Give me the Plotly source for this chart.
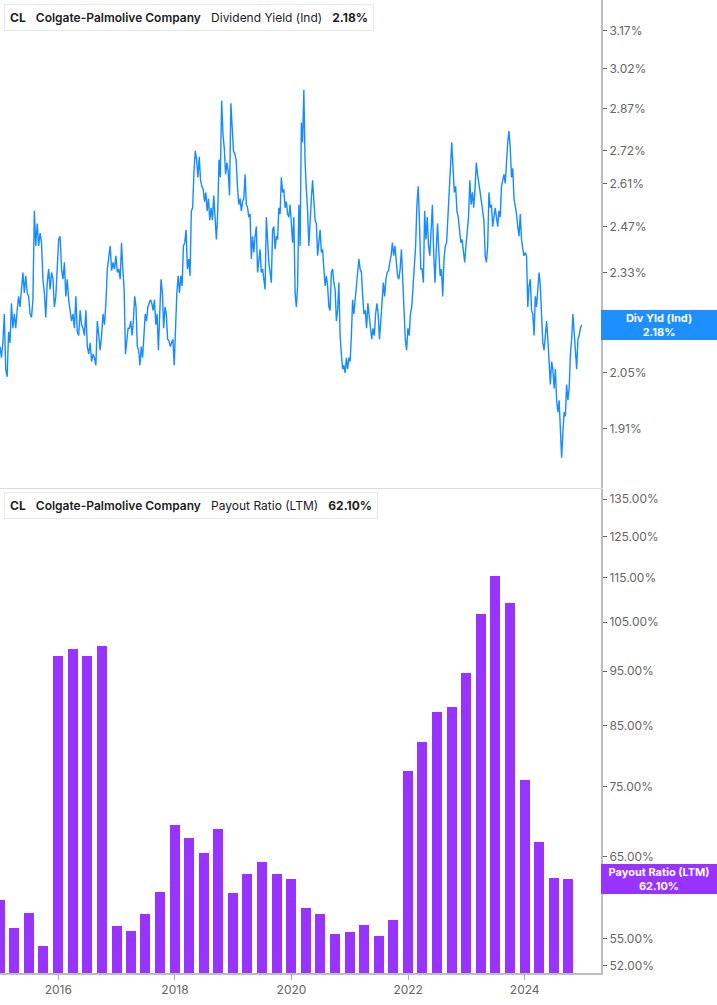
import math
import pandas as pd
import plotly.graph_objects as go

# ---------------- data ----------------
# Dividend yield (%), in five consecutive time segments
yld_2015_2017 = [2.12, 2.09, 2.13, 2.21, 2.06, 2.04, 2.16, 2.13, 2.24, 2.17, 2.21, 2.17, 2.22, 2.26,
                 2.23, 2.28, 2.33, 2.27, 2.32, 2.27, 2.26, 2.21, 2.20, 2.25, 2.52, 2.41, 2.48, 2.41,
                 2.45, 2.42, 2.31, 2.27, 2.20, 2.30, 2.34, 2.28, 2.33, 2.31, 2.23, 2.26, 2.34, 2.43,
                 2.44, 2.34, 2.31, 2.36, 2.26, 2.31, 2.25, 2.22, 2.19, 2.21, 2.17, 2.26, 2.16, 2.15,
                 2.22, 2.18, 2.17, 2.15, 2.22, 2.12, 2.10, 2.13, 2.08, 2.10, 2.09, 2.07, 2.19, 2.15,
                 2.11, 2.15, 2.21, 2.18, 2.24, 2.34, 2.37, 2.41, 2.335, 2.36, 2.34, 2.38, 2.33, 2.34]
yld_2017_2019 = [2.31, 2.42, 2.34, 2.28, 2.10, 2.14, 2.17, 2.17, 2.19, 2.15, 2.19, 2.26, 2.23, 2.12,
                 2.11, 2.07, 2.12, 2.09, 2.15, 2.21, 2.19, 2.23, 2.24, 2.25, 2.24, 2.22, 2.25, 2.18,
                 2.21, 2.11, 2.21, 2.31, 2.27, 2.17, 2.23, 2.21, 2.14, 2.136, 2.12, 2.13, 2.14, 2.07,
                 2.17, 2.27, 2.32, 2.27, 2.32, 2.29, 2.41, 2.42, 2.46, 2.34, 2.37, 2.32, 2.52, 2.53,
                 2.65, 2.72, 2.69, 2.63, 2.70, 2.62, 2.60, 2.59, 2.55, 2.58, 2.52, 2.56, 2.49, 2.53,
                 2.49, 2.57, 2.50, 2.43, 2.51, 2.69, 2.63, 2.90, 2.78, 2.73, 2.64, 2.68, 2.65, 2.57,
                 2.89, 2.80, 2.72, 2.71, 2.69, 2.60, 2.54]
yld_2019_2021 = [2.56, 2.52, 2.55, 2.56, 2.64, 2.54, 2.53, 2.50, 2.51, 2.37, 2.44, 2.39, 2.44, 2.47,
                 2.33, 2.36, 2.40, 2.33, 2.34, 2.31, 2.28, 2.50, 2.41, 2.36, 2.33, 2.30, 2.46, 2.47,
                 2.40, 2.44, 2.43, 2.53, 2.51, 2.63, 2.58, 2.59, 2.53, 2.55, 2.51, 2.50, 2.54, 2.46,
                 2.42, 2.50, 2.27, 2.23, 2.29, 2.54, 2.41, 2.82, 2.75, 2.94, 2.68, 2.59, 2.52, 2.41,
                 2.50, 2.56, 2.62, 2.55, 2.49, 2.48, 2.38, 2.42, 2.46, 2.39, 2.40, 2.34, 2.29, 2.32,
                 2.29, 2.23, 2.22, 2.33, 2.34, 2.30, 2.28, 2.19, 2.22, 2.30, 2.15, 2.10, 2.06, 2.07,
                 2.05, 2.09, 2.06, 2.09, 2.08, 2.15, 2.25, 2.21, 2.25, 2.27, 2.31, 2.37]
yld_2021_2023 = [2.34, 2.33, 2.26, 2.21, 2.22, 2.17, 2.24, 2.20, 2.16, 2.14, 2.17, 2.15, 2.21, 2.24,
                 2.21, 2.14, 2.19, 2.26, 2.30, 2.26, 2.31, 2.33, 2.335, 2.36, 2.38, 2.42, 2.38, 2.41,
                 2.37, 2.32, 2.31, 2.34, 2.40, 2.31, 2.19, 2.14, 2.11, 2.17, 2.15, 2.21, 2.23, 2.30,
                 2.34, 2.41, 2.54, 2.60, 2.48, 2.34, 2.34, 2.30, 2.52, 2.43, 2.50, 2.41, 2.38, 2.48,
                 2.54, 2.39, 2.30, 2.40, 2.48, 2.39, 2.32, 2.34, 2.26, 2.37, 2.41, 2.42, 2.50, 2.59,
                 2.68, 2.75, 2.66, 2.58, 2.60, 2.52, 2.50, 2.45, 2.42, 2.43, 2.39, 2.36, 2.41, 2.45,
                 2.50, 2.62, 2.54, 2.58, 2.53, 2.59, 2.68, 2.64, 2.60]
yld_2023_2024 = [2.58, 2.55, 2.51, 2.49, 2.38, 2.36, 2.41, 2.58, 2.53, 2.54, 2.47, 2.51, 2.53, 2.50,
                 2.47, 2.52, 2.50, 2.60, 2.62, 2.64, 2.61, 2.70, 2.75, 2.79, 2.73, 2.63, 2.66, 2.56,
                 2.54, 2.51, 2.47, 2.44, 2.51, 2.43, 2.40, 2.38, 2.39, 2.38, 2.23, 2.29, 2.31, 2.22,
                 2.21, 2.15, 2.26, 2.23, 2.28, 2.33, 2.29, 2.21, 2.13, 2.11, 2.15, 2.19, 2.14, 2.08,
                 2.02, 2.08, 2.06, 2.01, 2.06, 1.98, 1.95, 1.98, 1.90, 1.84, 1.90, 1.95, 1.94, 2.02,
                 1.98, 2.01, 2.10, 2.14, 2.21, 2.15, 2.11, 2.06, 2.14, 2.15, 2.17, 2.18]
yld_segments = [yld_2015_2017, yld_2017_2019, yld_2019_2021, yld_2021_2023, yld_2023_2024]
segment_bounds = ["2015-01-01", "2017-01-23", "2019-02-13", "2021-03-06", "2023-03-28", "2024-12-23"]

# Payout ratio (LTM, %), quarterly from Q4 2014 to Q3 2024
payout_quarters = pd.period_range("2014Q4", "2024Q3", freq="Q").end_time.normalize()
payout_ratio = [59.5, 56.2, 57.9, 54.2, 97.9, 99.3, 97.9, 99.9, 56.4, 55.8, 57.8, 60.5,
                69.4, 67.5, 65.5, 68.8, 60.4, 62.7, 64.3, 62.8, 62.1, 58.6, 57.8, 55.5,
                55.7, 56.5, 55.3, 57.1, 77.5, 82.2, 87.3, 88.3, 94.7, 106.7, 115.3, 109.1,
                76.1, 67.0, 62.2, 62.1]

yld_ticks = [3.17, 3.02, 2.87, 2.72, 2.61, 2.47, 2.33, 2.19, 2.05, 1.91, 1.77]
payout_ticks = [135, 125, 115, 105, 95, 85, 75, 65, 55, 52]
year_ticks = ["2016-01-01", "2018-01-01", "2020-01-01", "2022-01-01", "2024-01-01"]
year_labels = ["2016", "2018", "2020", "2022", "2024"]

# ---------------- build series ----------------
yld_dates, yld_vals = [], []
for i, seg in enumerate(yld_segments):
    last = i == len(yld_segments) - 1
    n = len(seg) if last else len(seg) + 1
    d = pd.date_range(segment_bounds[i], segment_bounds[i + 1], periods=n)
    if not last:
        d = d[:-1]
    yld_dates.extend(d)
    yld_vals.extend(seg)

BLUE = "#168cff"
PURPLE = "#9933ff"
FONT = "Inter"

W, H = 717, 1005
ML, MR, MT, MB = 0, 116, 0, 32
PW, PH = W - ML - MR, H - MT - MB

top_dom = [1 - 488 / PH, 1]
bot_dom = [0, 1 - 489 / PH]

fig = go.Figure()
fig.add_trace(go.Scatter(x=yld_dates, y=yld_vals, mode="lines",
                         line=dict(color=BLUE, width=1.4), xaxis="x", yaxis="y",
                         showlegend=False, hoverinfo="skip"))
fig.add_trace(go.Bar(x=payout_quarters, y=payout_ratio, marker_color=PURPLE,
                     marker_line_width=0, width=63 * 86400000, xaxis="x2", yaxis="y2",
                     showlegend=False, hoverinfo="skip"))

xr = ["2015-01-01", "2025-04-23"]
axis_tick = dict(ticks="outside", ticklen=4, tickwidth=1, tickcolor="#666",
                 tickfont=dict(family=FONT, size=12, color="#666"),
                 showgrid=False, zeroline=False, showline=True, linecolor="#bdbdbd", linewidth=2)

fig.update_layout(
    width=W, height=H, margin=dict(l=ML, r=MR, t=MT, b=MB),
    paper_bgcolor="white", plot_bgcolor="white", bargap=0,
    xaxis=dict(domain=[0, 1], range=xr, type="date", anchor="y", showticklabels=False,
               ticks="", showgrid=False, zeroline=False, showline=True,
               linecolor="#dcdcdc", linewidth=1),
    xaxis2=dict(domain=[0, 1], range=xr, type="date", anchor="y2",
                tickvals=year_ticks, ticktext=year_labels, ticks="outside", ticklen=5,
                tickcolor="#aaa", tickfont=dict(family=FONT, size=12, color="#666"),
                showgrid=False, zeroline=False, showline=True, linecolor="#bdbdbd", linewidth=2),
    yaxis=dict(domain=top_dom, type="log", side="right", anchor="x",
               range=[math.log10(1.7705), math.log10(3.2967)],
               tickvals=yld_ticks, ticktext=[f"{v:.2f}%" for v in yld_ticks], **axis_tick),
    yaxis2=dict(domain=bot_dom, type="log", side="right", anchor="x2",
                range=[math.log10(51.26), math.log10(137.79)],
                tickvals=payout_ticks, ticktext=[f"{v:.2f}%" for v in payout_ticks], **axis_tick),
)

def legend_box(ypx, color, name, value):
    fig.add_annotation(
        xref="paper", yref="paper", x=4 / PW, y=1 - ypx / PH, xanchor="left", yanchor="top",
        text=(f"<b>CL</b>   <span style='font-weight:600'>Colgate-Palmolive Company</span>"
              f"   {name}   <b>{value}</b>"),
        showarrow=False, align="left", bgcolor="white", bordercolor="#e8e8e8", borderwidth=1,
        borderpad=5, font=dict(family=FONT, size=12, color="#222"))
    fig.add_shape(type="rect", xref="paper", yref="paper", x0=4 / PW, x1=7 / PW,
                  y0=1 - (ypx + 26) / PH, y1=1 - ypx / PH, fillcolor=color, line_width=0)

legend_box(4, BLUE, "Dividend Yield (Ind)", "2.18%")
legend_box(492, PURPLE, "Payout Ratio (LTM)", "62.10%")

fig.add_annotation(xref="paper", yref="y", x=1, y=math.log10(yld_vals[-1]), xanchor="left",
                   yanchor="middle", text="<b>Div Yld (Ind)</b><br><b>2.18%</b>", showarrow=False,
                   bgcolor="#1e8fff", width=116, height=30, borderpad=0, borderwidth=0,
                   font=dict(family=FONT, size=11, color="white"), align="center")
fig.add_annotation(xref="paper", yref="y2", x=1, y=math.log10(payout_ratio[-1]), xanchor="left",
                   yanchor="middle", text="<b>Payout Ratio (LTM)</b><br><b>62.10%</b>",
                   showarrow=False, bgcolor=PURPLE, width=116, height=30, borderpad=0,
                   borderwidth=0, font=dict(family=FONT, size=11, color="white"), align="center")

fig.write_html("out.html", config={"displayModeBar": False},
               post_script="document.body.style.margin='0';")
